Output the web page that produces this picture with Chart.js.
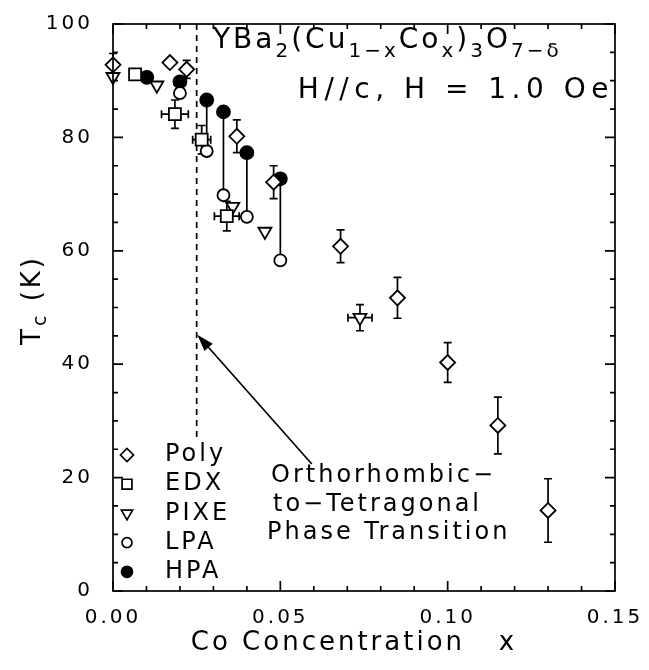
<!DOCTYPE html>
<html>
<head>
<meta charset="utf-8">
<script src="https://cdn.jsdelivr.net/npm/chart.js@4.4.0/dist/chart.umd.min.js"></script>
<style>
  html, body { margin: 0; padding: 0; background: #fff; }
</style>
</head>
<body>
<canvas id="myChart" width="649" height="670"></canvas>
<script>
// values
const polyX = [0.000, 0.017, 0.022, 0.037, 0.048, 0.068, 0.085, 0.100, 0.115, 0.130]
const polyY = [92.8, 93.2, 92.0, 80.2, 72.1, 60.8, 51.7, 40.3, 29.2, 14.2]
const polyErr = [2.0, 0, 1.6, 2.9, 2.9, 2.9, 3.6, 3.5, 5.0, 5.6]

const edxX = [0.0066, 0.0185, 0.0265, 0.0340]
const edxY = [91.1, 84.1, 79.6, 66.1]
const edxXErr = [0, 0.0040, 0.0027, 0.0037]
const edxYErr = [0, 2.5, 2.5, 2.6]

const pixeX = [0.000, 0.0131, 0.0358, 0.0454, 0.0738]
const pixeY = [90.7, 89.2, 67.8, 63.4, 48.2]
const pixeXErr = [0, 0, 0, 0, 0.0036]
const pixeYErr = [0, 0, 0, 0, 2.3]

const lpaX = [0.020, 0.028, 0.033, 0.040, 0.050]
const lpaY = [87.8, 77.6, 69.8, 66.0, 58.3]

const hpaX = [0.0101, 0.020, 0.028, 0.033, 0.040, 0.050]
const hpaY = [90.6, 89.8, 86.6, 84.5, 77.3, 72.7]

const xTickValues = [0, 0.05, 0.10, 0.15]
const xTickLabels = ['0.00', '0.05', '0.10', '0.15']
const yTickValues = [0, 20, 40, 60, 80, 100]
const yTickLabels = ['0', '20', '40', '60', '80', '100']

const transitionX = 0.025
const FONT = '"DejaVu Sans", sans-serif'

const toPts = (xs, ys) => xs.map((x, i) => ({ x, y: ys[i] }))

const styles = [
  { label: 'Poly', pointStyle: 'rectRot', radius: 7.5, rotation: 0, fill: '#fff', legendRadius: 6.5 },
  { label: 'EDX', pointStyle: 'rect', radius: 8.5, rotation: 0, fill: '#fff', legendRadius: 7 },
  { label: 'PIXE', pointStyle: 'triangle', radius: 7.5, rotation: 180, fill: '#fff', legendRadius: 6.5 },
  { label: 'LPA', pointStyle: 'circle', radius: 6, rotation: 0, fill: '#fff', legendRadius: 5 },
  { label: 'HPA', pointStyle: 'circle', radius: 6.5, rotation: 0, fill: '#000', legendRadius: 5.5 },
]
const seriesData = [
  toPts(polyX, polyY), toPts(edxX, edxY), toPts(pixeX, pixeY), toPts(lpaX, lpaY), toPts(hpaX, hpaY)
]

function vbar(ctx, xs, ys, x, y, e) {
  if (!e) return
  const px = xs.getPixelForValue(x)
  const y1 = ys.getPixelForValue(y - e), y2 = ys.getPixelForValue(y + e)
  ctx.beginPath()
  ctx.moveTo(px, y1); ctx.lineTo(px, y2)
  ctx.moveTo(px - 4, y1); ctx.lineTo(px + 4, y1)
  ctx.moveTo(px - 4, y2); ctx.lineTo(px + 4, y2)
  ctx.stroke()
}
function hbar(ctx, xs, ys, x, y, e) {
  if (!e) return
  const py = ys.getPixelForValue(y)
  const x1 = xs.getPixelForValue(x - e), x2 = xs.getPixelForValue(x + e)
  ctx.beginPath()
  ctx.moveTo(x1, py); ctx.lineTo(x2, py)
  ctx.moveTo(x1, py - 4); ctx.lineTo(x1, py + 4)
  ctx.moveTo(x2, py - 4); ctx.lineTo(x2, py + 4)
  ctx.stroke()
}

// text made of pieces, some lowered and smaller (subscripts)
function pieces(ctx, parts, x, y, big, small, spacing) {
  let cx = x
  parts.forEach(p => {
    ctx.font = (p[1] ? small : big) + 'px ' + FONT
    ctx.letterSpacing = spacing + 'px'
    ctx.fillText(p[0], cx, y + (p[1] ? 9 : 0))
    cx += ctx.measureText(p[0]).width
  })
  return cx - x
}

const extras = {
  id: 'extras',
  beforeDraw(chart) {
    chart.ctx.letterSpacing = '3px'
  },
  beforeDatasetsDraw(chart) {
    const ctx = chart.ctx, xs = chart.scales.x, ys = chart.scales.y
    ctx.save()
    ctx.strokeStyle = '#000'
    ctx.lineWidth = 1.7

    // dashed transition line
    ctx.setLineDash([6, 5])
    ctx.beginPath()
    ctx.moveTo(xs.getPixelForValue(transitionX), ys.getPixelForValue(100))
    ctx.lineTo(xs.getPixelForValue(transitionX), ys.getPixelForValue(27))
    ctx.stroke()
    ctx.setLineDash([])

    // HPA -> LPA connectors
    hpaX.forEach((x, i) => {
      const j = lpaX.indexOf(x)
      if (j < 0) return
      ctx.beginPath()
      ctx.moveTo(xs.getPixelForValue(x), ys.getPixelForValue(hpaY[i]))
      ctx.lineTo(xs.getPixelForValue(x), ys.getPixelForValue(lpaY[j]))
      ctx.stroke()
    })

    // error bars
    polyX.forEach((x, i) => vbar(ctx, xs, ys, x, polyY[i], polyErr[i]))
    edxX.forEach((x, i) => {
      vbar(ctx, xs, ys, x, edxY[i], edxYErr[i])
      hbar(ctx, xs, ys, x, edxY[i], edxXErr[i])
    })
    pixeX.forEach((x, i) => {
      vbar(ctx, xs, ys, x, pixeY[i], pixeYErr[i])
      hbar(ctx, xs, ys, x, pixeY[i], pixeXErr[i])
    })
    ctx.restore()
  },
  afterDraw(chart) {
    const ctx = chart.ctx, xs = chart.scales.x, ys = chart.scales.y
    const a = chart.chartArea
    ctx.save()
    ctx.strokeStyle = '#000'
    ctx.fillStyle = '#000'
    ctx.lineWidth = 1.7

    // frame
    ctx.strokeRect(a.left, a.top, a.right - a.left, a.bottom - a.top)

    // inward ticks, all four sides
    ctx.beginPath()
    for (let i = 0; i <= 15; i++) {
      const p = xs.getPixelForValue(i / 100)
      const len = i % 5 === 0 ? 10 : 5
      ctx.moveTo(p, a.bottom); ctx.lineTo(p, a.bottom - len)
      ctx.moveTo(p, a.top); ctx.lineTo(p, a.top + len)
    }
    for (let v = 0; v <= 100; v += 5) {
      const p = ys.getPixelForValue(v)
      const len = v % 20 === 0 ? 10 : 5
      ctx.moveTo(a.left, p); ctx.lineTo(a.left + len, p)
      ctx.moveTo(a.right, p); ctx.lineTo(a.right - len, p)
    }
    ctx.stroke()

    // arrow to the transition line
    const x0 = xs.getPixelForValue(0.0594), y0 = ys.getPixelForValue(22.4)
    const x1 = xs.getPixelForValue(0.0252), y1 = ys.getPixelForValue(45.2)
    const ang = Math.atan2(y1 - y0, x1 - x0)
    ctx.beginPath()
    ctx.moveTo(x0, y0)
    ctx.lineTo(x1 - 12 * Math.cos(ang), y1 - 12 * Math.sin(ang))
    ctx.stroke()
    ctx.beginPath()
    ctx.moveTo(x1, y1)
    ctx.lineTo(x1 - 17 * Math.cos(ang) + 5.5 * Math.sin(ang), y1 - 17 * Math.sin(ang) - 5.5 * Math.cos(ang))
    ctx.lineTo(x1 - 17 * Math.cos(ang) - 5.5 * Math.sin(ang), y1 - 17 * Math.sin(ang) + 5.5 * Math.cos(ang))
    ctx.closePath()
    ctx.fill()

    // legend
    ctx.textAlign = 'left'
    ctx.textBaseline = 'middle'
    ctx.font = '24px ' + FONT
    ctx.letterSpacing = '3px'
    chart.data.datasets.forEach((ds, i) => {
      const s = styles[i]
      const y = 455 + i * 29.2
      ctx.fillStyle = s.fill
      ctx.strokeStyle = '#000'
      ctx.lineWidth = 1.7
      Chart.helpers.drawPoint(ctx, { pointStyle: s.pointStyle, rotation: s.rotation, radius: s.legendRadius, borderWidth: 1.7 }, 127, y)
      ctx.fillStyle = '#000'
      ctx.fillText(ds.label, 165, y)
    })

    // annotation
    ctx.font = '24px ' + FONT
    ctx.letterSpacing = '3px'
    ctx.fillText('Orthorhombic\u2212', 271, 476)
    ctx.fillText('to\u2212Tetragonal', 273, 505)
    ctx.fillText('Phase Transition', 267, 533)

    // compound formula and field
    ctx.textBaseline = 'alphabetic'
    pieces(ctx, [['YBa', 0], ['2', 1], ['(Cu', 0], ['1\u2212x', 1], ['Co', 0], ['x', 1], [')', 0], ['3', 1], ['O', 0], ['7\u2212\u03b4', 1]], 213, 48, 28, 20, 3)
    ctx.font = '28px ' + FONT
    ctx.letterSpacing = '5.5px'
    ctx.textAlign = 'right'
    ctx.fillText('H//c, H = 1.0 Oe', 614, 98)

    // axis titles
    ctx.textAlign = 'center'
    ctx.textBaseline = 'middle'
    ctx.font = '26px ' + FONT
    ctx.letterSpacing = '3px'
    ctx.fillText('Co Concentration   x', 354, 643)

    ctx.save()
    ctx.translate(33, 300)
    ctx.rotate(-Math.PI / 2)
    ctx.textAlign = 'left'
    ctx.textBaseline = 'middle'
    ctx.letterSpacing = '3px'
    ctx.font = '26px ' + FONT
    const w1 = ctx.measureText('T').width
    ctx.font = '19px ' + FONT
    const w2 = ctx.measureText('c').width
    ctx.font = '26px ' + FONT
    const w3 = ctx.measureText(' (K)').width
    let sx = -(w1 + w2 + w3) / 2
    ctx.fillText('T', sx, 0); sx += w1
    ctx.font = '19px ' + FONT
    ctx.fillText('c', sx, 8); sx += w2
    ctx.font = '26px ' + FONT
    ctx.fillText(' (K)', sx, 0)
    ctx.restore()

    ctx.restore()
  }
}

new Chart(document.getElementById('myChart'), {
  type: 'scatter',
  data: {
    datasets: styles.map((s, i) => ({
      label: s.label,
      data: seriesData[i],
      pointStyle: s.pointStyle,
      rotation: s.rotation,
      pointRadius: s.radius,
      pointBackgroundColor: s.fill,
      pointBorderColor: '#000',
      pointBorderWidth: 1.8,
      clip: false,
    }))
  },
  options: {
    responsive: false,
    animation: false,
    events: [],
    layout: { padding: { top: 15, right: 34, left: 0, bottom: 0 } },
    plugins: {
      legend: { display: false },
      tooltip: { enabled: false },
    },
    scales: {
      x: {
        type: 'linear',
        min: 0,
        max: 0.15,
        afterBuildTicks: scale => { scale.ticks = xTickValues.map(v => ({ value: v })) },
        afterFit: scale => { scale.height = 79 },
        ticks: {
          callback: (v, i) => xTickLabels[i],
          font: { family: FONT, size: 20 },
          color: '#000',
          padding: 7,
          maxRotation: 0,
        },
        grid: { display: false },
        border: { display: false },
      },
      y: {
        type: 'linear',
        min: 0,
        max: 100,
        afterBuildTicks: scale => { scale.ticks = yTickValues.map(v => ({ value: v })) },
        afterFit: scale => { scale.width = 113 },
        ticks: {
          callback: (v, i) => yTickLabels[i],
          font: { family: FONT, size: 20 },
          color: '#000',
          padding: 12,
        },
        grid: { display: false },
        border: { display: false },
      },
    },
  },
  plugins: [extras],
})
</script>
</body>
</html>
